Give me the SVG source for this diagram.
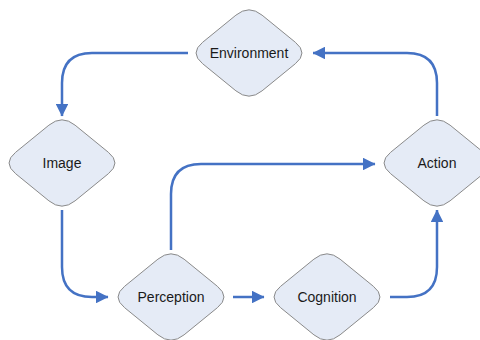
<svg xmlns="http://www.w3.org/2000/svg" width="480" height="340" viewBox="0 0 480 340">
<defs>
<style>
.node{fill:#e5ebf6;stroke:#8a8a8a;stroke-width:1}
.lbl{font-family:"Liberation Sans",Arial,sans-serif;font-size:14px;fill:#1a1a1a;text-anchor:middle;dominant-baseline:central}
.edge{fill:none;stroke:#4472c4;stroke-width:2.5}
</style>
<path id="dia" d="M -13.09,-37.83 Q 0,-48.5 13.09,-37.83 L 46.41,-10.67 Q 59.5,0 46.41,10.67 L 13.09,37.83 Q 0,48.5 -13.09,37.83 L -46.41,10.67 Q -59.5,0 -46.41,-10.67 Z"/>
<marker id="arr" markerWidth="5" markerHeight="5" refX="4.8" refY="2.5" orient="auto" markerUnits="strokeWidth">
<path d="M0,0 L5,2.5 L0,5 Z" fill="#4472c4"/>
</marker>
</defs>
<g id="connectors">
<path class="edge" marker-end="url(#arr)" d="M188,53 H92 Q62,53 62,83 V116"/>
<path class="edge" marker-end="url(#arr)" d="M437,116 V83 Q437,53 407,53 H313"/>
<path class="edge" marker-end="url(#arr)" d="M62,210 V267 Q62,297 92,297 H108"/>
<path class="edge" marker-end="url(#arr)" d="M233,297 H264"/>
<path class="edge" marker-end="url(#arr)" d="M390,297 H407 Q437,297 437,267 V210"/>
<path class="edge" marker-end="url(#arr)" d="M171,250 V194 Q171,164 201,164 H375"/>
</g>
<g id="environment"><use href="#dia" class="node" x="249" y="53"/><text class="lbl" x="249" y="53">Environment</text></g>
<g id="image"><use href="#dia" class="node" x="62" y="163"/><text class="lbl" x="62" y="163">Image</text></g>
<g id="action"><use href="#dia" class="node" x="437" y="163"/><text class="lbl" x="437" y="163">Action</text></g>
<g id="perception"><use href="#dia" class="node" x="171" y="297"/><text class="lbl" x="171" y="297">Perception</text></g>
<g id="cognition"><use href="#dia" class="node" x="327" y="297"/><text class="lbl" x="327" y="297">Cognition</text></g>
</svg>
